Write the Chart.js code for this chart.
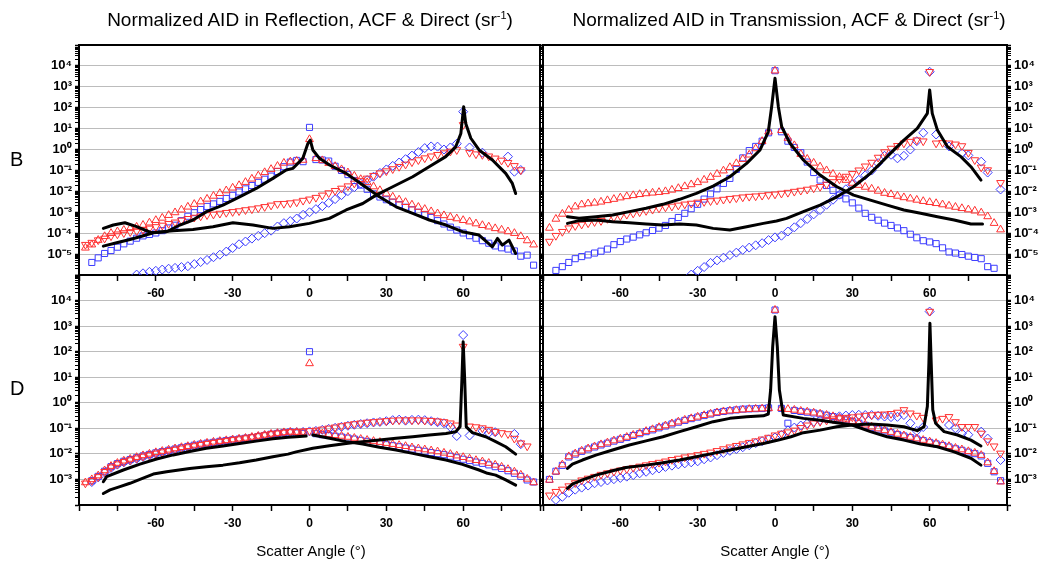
<!DOCTYPE html>
<html>
<head>
<meta charset="utf-8">
<script src="https://cdn.jsdelivr.net/npm/chart.js@4.4.1/dist/chart.umd.min.js"></script>
<style>
  html, body { margin: 0; padding: 0; background: #fff; }
  #page { position: relative; width: 1040px; height: 566px; overflow: hidden;
          font-family: "Liberation Sans", Arial, sans-serif; }
  #page canvas { position: absolute; left: 0; top: 0; }
  .lbl { position: absolute; color: #000; white-space: nowrap; line-height: 1; }
  .title { font-size: 19px; top: 10px; transform: translateX(-50%); }
  .xt { font-size: 15px; top: 543px; transform: translateX(-50%); }
  .row { font-size: 20px; left: 10px; }
  .title sup { font-size: 11px; vertical-align: 7px; line-height: 0; }
</style>
</head>
<body>
<div id="page">
  <canvas id="cBL" width="1040" height="566"></canvas>
  <canvas id="cBR" width="1040" height="566"></canvas>
  <canvas id="cTL" width="1040" height="566"></canvas>
  <canvas id="cTR" width="1040" height="566"></canvas>
  <div class="lbl title" style="left:310px">Normalized AID in Reflection, ACF &amp; Direct (sr<sup>-1</sup>)</div>
  <div class="lbl title" style="left:789px">Normalized AID in Transmission, ACF &amp; Direct (sr<sup>-1</sup>)</div>
  <div class="lbl row" style="top:149px">B</div>
  <div class="lbl row" style="top:378px">D</div>
  <div class="lbl xt" style="left:311px">Scatter Angle (°)</div>
  <div class="lbl xt" style="left:775px">Scatter Angle (°)</div>
</div>
<script>
Chart.defaults.font.family = '"Liberation Sans", Arial, sans-serif';

// all y values below are log10 of the normalized AID (sr^-1)

// angles of the marker series (deg)
const mkAngles = [
  -87.5, -85, -82.5, -80, -77.5, -75, -72.5, -70, -67.5, -65,
  -62.5, -60, -57.5, -55, -52.5, -50, -47.5, -45, -42.5, -40,
  -37.5, -35, -32.5, -30, -27.5, -25, -22.5, -20, -17.5, -15,
  -12.5, -10, -7.5, -5, -2.5, 0, 2.5, 5, 7.5, 10,
  12.5, 15, 17.5, 20, 22.5, 25, 27.5, 30, 32.5, 35,
  37.5, 40, 42.5, 45, 47.5, 50, 52.5, 55, 57.5, 60,
  62.5, 65, 67.5, 70, 72.5, 75, 77.5, 80, 82.5, 85,
  87.5
];

const xTickVals = [-90, -75, -60, -45, -30, -15, 0, 15, 30, 45, 60, 75, 90];
const xLabelVals = [-60, -30, 0, 30, 60];

// ---------- Reflection, B ----------
const reflB_sq = [
  null, -5.40, -5.18, -4.97, -4.83, -4.67, -4.51, -4.38, -4.24, -4.13,
  -4.06, -3.99, -3.88, -3.75, -3.62, -3.40, -3.19, -3.02, -2.87, -2.72,
  -2.60, -2.48, -2.34, -2.19, -2.03, -1.88, -1.72, -1.57, -1.42, -1.27,
  -1.05, -0.82, -0.60, -0.52, -0.58, 1.06, -0.48, -0.50, -0.55, -0.80,
  -1.00, -1.20, -1.48, -1.70, -1.90, -2.12, -2.27, -2.40, -2.52, -2.64,
  -2.76, -2.88, -3.00, -3.12, -3.25, -3.40, -3.56, -3.71, -3.85, -3.99,
  -4.12, -4.24, -4.36, -4.48, -4.61, -4.70, -4.76, -4.85, -5.10, -5.05,
  -5.53
];
const reflB_tu = [
  -4.70, -4.55, -4.33, -4.15, -4.00, -3.92, -3.85, -3.77, -3.70, -3.61,
  -3.50, -3.38, -3.27, -3.14, -3.01, -2.88, -2.74, -2.61, -2.49, -2.36,
  -2.22, -2.09, -1.96, -1.83, -1.71, -1.56, -1.40, -1.25, -1.09, -0.94,
  -0.79, -0.64, -0.58, -0.55, -0.50, 0.49, -0.42, -0.52, -0.65, -0.80,
  -0.95, -1.10, -1.26, -1.42, -1.57, -1.77, -1.95, -2.11, -2.26, -2.40,
  -2.52, -2.64, -2.75, -2.85, -2.96, -3.06, -3.15, -3.23, -3.30, -3.38,
  -3.45, -3.54, -3.62, -3.69, -3.77, -3.84, -3.92, -4.00, -4.15, -4.35,
  -4.55
];
const reflB_td = [
  -4.55, -4.45, -4.33, -4.25, -4.14, -4.05, -3.99, -3.94, -3.90, -3.84,
  -3.77, -3.70, -3.63, -3.55, -3.48, -3.39, -3.31, -3.25, -3.19, -3.13,
  -3.10, -3.06, -3.02, -2.98, -2.94, -2.89, -2.85, -2.80, -2.74, -2.67,
  -2.60, -2.59, -2.56, -2.52, -2.44, -2.38, -2.30, -2.19, -2.08, -1.97,
  -1.86, -1.75, -1.62, -1.50, -1.38, -1.25, -1.13, -1.03, -0.93, -0.82,
  -0.71, -0.60, -0.50, -0.41, -0.32, -0.25, -0.17, -0.09, -0.02, 1.18,
  -0.15, -0.22, -0.25, -0.32, -0.42, -0.52, -0.63, -0.78, -0.98, null,
  null
];
const reflB_dm = [
  null, null, null, null, null, null, null, null, -5.98, -5.92,
  -5.85, -5.80, -5.74, -5.70, -5.66, -5.62, -5.58, -5.48, -5.38, -5.28,
  -5.15, -5.03, -4.88, -4.71, -4.53, -4.40, -4.26, -4.13, -4.00, -3.88,
  -3.68, -3.52, -3.42, -3.30, -3.12, -3.00, -2.85, -2.71, -2.55, -2.37,
  -2.18, -1.99, -1.80, -1.63, -1.46, -1.30, -1.12, -0.95, -0.78, -0.62,
  -0.46, -0.29, -0.12, 0.07, 0.15, 0.14, 0.00, 0.10, 0.28, 1.81,
  0.10, null, -0.15, null, null, null, -0.34, -1.06, -0.98, null,
  null
];
const reflB_l0x = [-80.5, -75.3, -70.1, -66.2, -61, -55.8, -50.6, -45.5, -40.2, -33.8, -27.3, -20.8, -14.3, -9.1, -6.5, -2.6, -0.6, 0.3, 1.3, 3.9, 7.8, 14.3, 20.8, 27.3, 33.8, 40.3, 46.8, 53.3, 59.7, 66.2, 71.4, 73.4, 75.3, 77.9, 80.5];
const reflB_l0 = [-4.62, -4.46, -4.30, -4.17, -3.98, -3.93, -3.61, -3.37, -2.97, -2.66, -2.26, -1.86, -1.38, -0.98, -0.90, -0.42, 0.30, 0.45, -0.02, -0.42, -0.74, -1.14, -1.70, -2.26, -2.74, -3.05, -3.37, -3.61, -3.93, -4.09, -4.65, -4.25, -4.57, -4.33, -4.97];
const reflB_l60x = [-80.5, -76.6, -72.1, -67.5, -61.7, -53.3, -45.5, -37.7, -29.9, -22.1, -14.3, -7.8, 0, 7.8, 14.3, 20.8, 26, 32.5, 40.3, 46.7, 53.2, 57.1, 59.1, 60.2, 61, 63, 66.2, 71.4, 76.6, 79.2, 80.5];
const reflB_l60 = [-3.77, -3.61, -3.50, -3.69, -3.98, -3.88, -3.82, -3.69, -3.50, -3.61, -3.77, -3.69, -3.53, -3.29, -2.89, -2.58, -2.18, -1.78, -1.30, -0.82, -0.34, 0.13, 0.77, 2.05, 1.25, 0.54, -0.02, -0.50, -1.14, -1.62, -2.10];

// ---------- Transmission, B ----------
const transB_sq = [
  null, -5.78, -5.60, -5.40, -5.22, -5.12, -5.04, -4.95, -4.86, -4.76,
  -4.55, -4.40, -4.28, -4.19, -4.08, -3.98, -3.87, -3.76, -3.63, -3.44,
  -3.25, -3.05, -2.83, -2.62, -2.37, -2.12, -1.88, -1.62, -1.38, -0.95,
  -0.40, -0.05, 0.15, 0.40, 0.80, 3.77, 0.85, 0.40, 0.10, -0.15,
  -0.60, -1.10, -1.46, -1.72, -1.95, -2.18, -2.36, -2.55, -2.80, -3.05,
  -3.24, -3.38, -3.52, -3.63, -3.75, -3.88, -4.05, -4.22, -4.36, -4.42,
  -4.50, -4.70, -4.90, -4.95, -5.02, -5.10, -5.16, -5.22, -5.60, -5.68,
  null
];
const transB_tu = [
  -3.75, -3.32, -3.08, -2.89, -2.73, -2.63, -2.58, -2.55, -2.50, -2.43,
  -2.37, -2.30, -2.24, -2.19, -2.14, -2.10, -2.07, -2.04, -2.00, -1.93,
  -1.85, -1.76, -1.67, -1.57, -1.45, -1.32, -1.17, -1.01, -0.85, -0.66,
  -0.46, -0.25, 0.05, 0.40, 0.85, 3.77, 0.92, 0.55, 0.20, -0.22,
  -0.45, -0.64, -0.82, -1.00, -1.17, -1.32, -1.46, -1.60, -1.70, -1.79,
  -1.88, -1.98, -2.08, -2.14, -2.22, -2.29, -2.35, -2.41, -2.47, -2.52,
  -2.57, -2.63, -2.69, -2.75, -2.81, -2.87, -2.93, -3.02, -3.20, -3.52,
  -3.83
];
const transB_td = [
  -4.40, -4.12, -3.93, -3.76, -3.65, -3.58, -3.52, -3.46, -3.41, -3.31,
  -3.24, -3.18, -3.11, -3.05, -2.99, -2.93, -2.87, -2.81, -2.76, -2.72,
  -2.67, -2.62, -2.58, -2.53, -2.50, -2.46, -2.43, -2.39, -2.35, -2.32,
  -2.28, -2.25, -2.23, -2.20, -2.17, -2.14, -2.10, -2.06, -2.01, -1.96,
  -1.91, -1.85, -1.78, -1.67, -1.55, -1.42, -1.29, -1.16, -0.99, -0.80,
  -0.62, -0.38, -0.12, 0.05, 0.18, 0.30, 0.38, 0.45, 0.40, 3.72,
  0.30, 0.32, 0.30, 0.25, 0.17, -0.15, -0.50, -0.85, -0.98, null,
  -1.59
];
const transB_dm = [
  null, null, null, null, null, null, null, null, null, null,
  null, null, null, null, null, null, null, null, null, null,
  null, null, -5.98, -5.80, -5.62, -5.42, -5.30, -5.17, -5.05, -4.93,
  -4.80, -4.69, -4.58, -4.48, -4.33, -4.20, -4.12, -3.92, -3.72, -3.52,
  -3.32, -3.10, -2.89, -2.64, -2.40, -2.16, -1.90, -1.67, -1.45, -1.23,
  -1.00, -0.65, -0.30, -0.25, -0.42, -0.30, 0.00, 0.40, 0.80, 3.72,
  0.72, null, 0.15, null, -0.18, -0.28, null, -0.58, -1.10, null,
  -1.91
];
const transB_l0x = [-80.5, -76, -69.5, -63, -56.5, -50, -43.5, -37, -30.5, -24, -17.5, -11, -5.8, -2.6, -1.3, 0, 1.3, 2.6, 5.8, 11, 17.5, 24, 30.5, 37, 43.5, 50, 56.5, 63, 69.5, 76, 80.5];
const transB_l0 = [-3.21, -3.29, -3.21, -3.13, -2.97, -2.81, -2.62, -2.38, -2.10, -1.75, -1.30, -0.66, -0.02, 0.85, 2.05, 3.41, 2.05, 1.09, 0.30, -0.50, -1.22, -1.78, -2.18, -2.42, -2.66, -2.89, -3.05, -3.21, -3.37, -3.56, -3.56];
const transB_l60x = [-80.5, -76, -69.5, -63, -56.5, -50, -43.5, -37, -30.5, -24, -17.5, -11, -4.5, 0.6, 4.5, 11, 17.5, 24, 30.5, 37, 43.5, 50, 55.2, 59.1, 60, 61, 63, 66.9, 72.1, 76, 79.9];
const transB_l60 = [-3.53, -3.40, -3.37, -3.45, -3.50, -3.56, -3.61, -3.56, -3.61, -3.77, -3.85, -3.69, -3.53, -3.42, -3.29, -2.97, -2.66, -2.26, -1.78, -1.14, -0.34, 0.45, 1.01, 1.73, 2.85, 1.73, 0.93, 0.13, -0.34, -0.82, -1.46];

// ---------- Reflection, D ----------
const reflD_sq = [
  null, -3.05, -2.88, -2.68, -2.50, -2.38, -2.29, -2.22, -2.15, -2.08,
  -2.02, -1.96, -1.91, -1.86, -1.81, -1.76, -1.71, -1.66, -1.62, -1.58,
  -1.55, -1.51, -1.48, -1.45, -1.42, -1.39, -1.36, -1.32, -1.28, -1.23,
  -1.20, -1.17, -1.14, -1.18, -1.20, 2.00, -1.21, -1.25, -1.28, -1.31,
  -1.34, -1.38, -1.42, -1.47, -1.51, -1.55, -1.59, -1.64, -1.68, -1.72,
  -1.77, -1.81, -1.86, -1.90, -1.95, -1.99, -2.03, -2.09, -2.15, -2.21,
  -2.26, -2.32, -2.37, -2.43, -2.50, -2.57, -2.66, -2.76, -2.88, -3.02,
  -3.10
];
const reflD_tu = [
  -3.12, -3.00, -2.85, -2.65, -2.48, -2.36, -2.27, -2.20, -2.13, -2.06,
  -2.00, -1.94, -1.89, -1.84, -1.79, -1.74, -1.70, -1.65, -1.61, -1.57,
  -1.53, -1.50, -1.47, -1.44, -1.41, -1.38, -1.34, -1.30, -1.26, -1.22,
  -1.19, -1.16, -1.14, -1.15, -1.17, 1.54, -1.18, -1.21, -1.24, -1.27,
  -1.30, -1.34, -1.38, -1.42, -1.46, -1.50, -1.54, -1.58, -1.62, -1.66,
  -1.70, -1.75, -1.79, -1.83, -1.87, -1.91, -1.96, -2.01, -2.07, -2.13,
  -2.19, -2.25, -2.30, -2.36, -2.43, -2.51, -2.60, -2.70, -2.82, -2.98,
  -3.12
];
const reflD_td = [
  -3.15, -3.05, -2.90, -2.70, -2.52, -2.40, -2.31, -2.24, -2.17, -2.10,
  -2.04, -1.98, -1.93, -1.88, -1.83, -1.78, -1.73, -1.69, -1.64, -1.60,
  -1.56, -1.52, -1.49, -1.45, -1.42, -1.38, -1.34, -1.30, -1.26, -1.22,
  -1.19, -1.16, -1.14, -1.13, -1.12, -1.10, -1.08, -1.04, -1.00, -0.96,
  -0.91, -0.87, -0.83, -0.80, -0.77, -0.75, -0.73, -0.71, -0.69, -0.68,
  -0.68, -0.68, -0.68, -0.69, -0.70, -0.72, -0.75, -0.80, -0.88, 2.20,
  -0.92, -0.95, -0.99, -1.05, -1.13, -1.18, -1.22, -1.40, -1.58, -1.70,
  null
];
const reflD_dm = [
  null, -3.10, -2.92, -2.73, -2.55, -2.42, -2.33, -2.26, -2.19, -2.12,
  -2.06, -2.00, -1.95, -1.90, -1.85, -1.80, -1.75, -1.71, -1.66, -1.62,
  -1.58, -1.54, -1.51, -1.47, -1.44, -1.40, -1.36, -1.32, -1.28, -1.24,
  -1.21, -1.18, -1.16, -1.15, -1.14, -1.12, -1.10, -1.06, -1.02, -0.98,
  -0.94, -0.90, -0.86, -0.83, -0.80, -0.77, -0.75, -0.72, -0.68, -0.66,
  -0.70, -0.67, -0.66, -0.68, -0.72, -0.76, -0.80, -0.95, -1.30, 2.65,
  -1.28, null, -1.10, -1.18, -1.15, null, null, -1.22, -1.62, null,
  null
];
const reflD_l0x = [-80.5, -79.2, -72.7, -66.2, -59.7, -53.2, -46.8, -40.3, -33.8, -27.3, -20.8, -14.3, -8.4, -5.2, -1.3, 0, 1.3, 7.8, 14.3, 20.8, 27.3, 33.8, 40.3, 46.8, 53.3, 59.7, 66.2, 69.5, 72.7, 76.6, 80.5];
const reflD_l0 = [-3.09, -2.89, -2.63, -2.40, -2.20, -2.04, -1.91, -1.78, -1.69, -1.59, -1.50, -1.41, -1.35, -1.33, -1.30, null, -1.26, -1.39, -1.52, -1.61, -1.74, -1.85, -1.98, -2.11, -2.24, -2.41, -2.63, -2.76, -2.83, -3.02, -3.22];
const reflD_l60x = [-80.5, -77.9, -74, -70.1, -66.2, -61, -55.8, -46.8, -40.3, -33.8, -27.3, -20.8, -14.3, -8.4, -5.2, 1.3, 7.8, 14.3, 20.8, 27.3, 33.8, 40.3, 46.8, 53.3, 57.1, 58.8, 59.5, 60, 60.6, 61.2, 63.6, 68.8, 72.7, 76.6, 80.5];
const reflD_l60 = [-3.55, -3.41, -3.28, -3.15, -3.00, -2.79, -2.70, -2.57, -2.50, -2.44, -2.35, -2.24, -2.11, -2.01, -1.92, -1.78, -1.68, -1.59, -1.52, -1.46, -1.39, -1.33, -1.26, -1.20, -1.13, -0.94, 0.89, 2.39, 0.89, -0.94, -1.17, -1.33, -1.52, -1.72, -2.01];

// ---------- Transmission, D ----------
const transD_sq = [
  -3.00, -2.68, -2.45, -2.12, -2.01, -1.90, -1.81, -1.73, -1.65, -1.58,
  -1.50, -1.43, -1.36, -1.28, -1.21, -1.13, -1.06, -0.98, -0.91, -0.83,
  -0.76, -0.69, -0.62, -0.56, -0.50, -0.44, -0.38, -0.34, -0.31, -0.28,
  -0.25, -0.24, -0.23, -0.22, -0.20, 3.63, -0.22, -0.80, -0.30, -0.34,
  -0.37, -0.40, -0.44, -0.49, -0.54, -0.60, -0.67, -0.73, -0.80, -0.88,
  -0.96, -1.03, -1.10, -1.17, -1.24, -1.30, -1.36, -1.42, -1.48, -1.55,
  -1.61, -1.67, -1.73, -1.80, -1.86, -1.93, -1.99, -2.08, -2.37, -2.70,
  -3.05
];
const transD_tu = [
  -3.02, -2.70, -2.42, -2.10, -1.99, -1.88, -1.79, -1.71, -1.63, -1.56,
  -1.48, -1.41, -1.34, -1.26, -1.19, -1.11, -1.04, -0.96, -0.89, -0.81,
  -0.74, -0.67, -0.61, -0.55, -0.49, -0.43, -0.38, -0.34, -0.31, -0.29,
  -0.27, -0.25, -0.24, -0.23, -0.22, 3.63, -0.21, -0.25, -0.28, -0.32,
  -0.35, -0.39, -0.43, -0.48, -0.53, -0.59, -0.66, -0.72, -0.79, -0.86,
  -0.94, -1.01, -1.08, -1.15, -1.22, -1.28, -1.34, -1.40, -1.46, -1.52,
  -1.58, -1.64, -1.70, -1.77, -1.83, -1.90, -1.96, -2.05, -2.34, -2.68,
  -3.09
];
const transD_td = [
  -3.62, -3.48, -3.39, -3.26, -3.14, -3.03, -2.96, -2.89, -2.81, -2.75,
  -2.69, -2.64, -2.59, -2.54, -2.49, -2.44, -2.39, -2.34, -2.29, -2.23,
  -2.18, -2.13, -2.09, -2.04, -1.99, -1.94, -1.88, -1.81, -1.74, -1.68,
  -1.62, -1.56, -1.50, -1.43, -1.36, -1.27, -1.20, -1.15, -1.08, -0.98,
  -0.88, -0.80, -0.74, -0.69, -0.64, -0.60, -0.58, -0.56, -0.53, -0.50,
  -0.48, -0.46, -0.45, -0.43, -0.38, -0.28, -0.41, -0.50, -0.58, 3.57,
  -0.68, -0.62, -0.55, -0.75, -0.94, -0.94, -0.94, -1.20, -1.50, -1.70,
  -1.98
];
const transD_dm = [
  null, -3.80, -3.68, -3.52, -3.40, -3.32, -3.24, -3.15, -3.10, -3.04,
  -2.99, -2.94, -2.89, -2.83, -2.76, -2.70, -2.64, -2.57, -2.51, -2.46,
  -2.41, -2.37, -2.33, -2.29, -2.21, -2.14, -2.05, -1.96, -1.88, -1.81,
  -1.74, -1.66, -1.58, -1.50, -1.43, -1.36, -1.26, -1.08, -0.97, -0.89,
  -0.81, -0.74, -0.68, -0.62, -0.57, -0.53, -0.50, -0.48, -0.47, -0.48,
  -0.48, -0.51, -0.54, -0.56, -0.55, -0.48, -0.80, -1.10, -0.95, 3.57,
  null, null, -0.87, -1.00, -1.20, -1.25, null, -1.13, -1.40, null,
  -2.24
];
const transD_l0x = [-80.5, -78.6, -74.7, -69.5, -63, -56.5, -50, -43.5, -37, -30.5, -24, -17.5, -11, -4.5, -2.6, -1.7, -0.9, 0, 0.9, 1.7, 3.2, 11, 17.5, 24, 29.9, 37, 43.5, 50, 56.5, 63, 69.5, 76, 79.9];
const transD_l0 = [-2.57, -2.40, -2.24, -2.05, -1.85, -1.65, -1.49, -1.33, -1.13, -0.94, -0.74, -0.61, -0.55, -0.51, -0.44, 0.50, 2.19, 3.37, 2.19, 0.50, -0.48, -0.61, -0.68, -0.78, -0.87, -1.13, -1.33, -1.46, -1.61, -1.72, -1.92, -2.17, -2.44];
const transD_l60x = [-80.5, -78.6, -74.7, -69.5, -63, -57.8, -50, -43.5, -37, -30.5, -24, -17.5, -11, -4.5, 1.3, 6.2, 11, 17.5, 24, 29.9, 37, 43.5, 50, 55.2, 57.8, 59.1, 59.7, 60.1, 60.6, 61.2, 62.3, 65.6, 70.8, 76, 79.9];
const transD_l60 = [-3.35, -3.18, -3.02, -2.83, -2.66, -2.53, -2.44, -2.35, -2.24, -2.11, -1.98, -1.85, -1.72, -1.59, -1.46, -1.33, -1.17, -1.07, -0.94, -0.87, -0.83, -0.87, -0.94, -1.09, -0.94, -0.15, 1.54, 3.11, 1.54, -0.28, -0.80, -1.13, -1.26, -1.46, -1.69];

// ---------- drawing ----------
const BLUE = '#3c3cff';
const RED = '#ff3030';
const GRID = '#bcbcbc';
const SUP = { '-': '\u207b', '0': '\u2070', '1': '\u00b9', '2': '\u00b2', '3': '\u00b3', '4': '\u2074',
              '5': '\u2075', '6': '\u2076', '7': '\u2077', '8': '\u2078', '9': '\u2079' };
const Y_BOX = 40;   // room kept for the y tick labels
const X_BOX = 30;   // room kept for the x tick labels

const isDecade = v => Math.abs(Math.log10(v) - Math.round(Math.log10(v))) < 1e-6;

function powLabel(v, lo, hi) {
  if (!isDecade(v)) return '';
  const e = Math.round(Math.log10(v));
  if (e < lo || e > hi) return '';
  return '10' + String(e).split('').map(c => SUP[c]).join('');
}

function logTicks(lo, hi) {
  const t = [];
  for (let e = lo; e < hi; e++) {
    for (let k = 1; k <= 9; k++) t.push({ value: Number(k + 'e' + e) });
  }
  t.push({ value: Number('1e' + hi) });
  return t;
}

const toPts = (xs, ls) => xs.map((x, i) => ({ x, y: ls[i] === null ? null : Math.pow(10, ls[i]) }));
const toMk = ls => mkAngles.map((x, i) => ({ x, y: ls[i] === null ? null : Math.pow(10, ls[i]) }))
                          .filter(p => p.y !== null);

function lineSet(xs, ls) {
  return { data: toPts(xs, ls), showLine: true, spanGaps: false, pointRadius: 0,
           borderColor: '#000', borderWidth: 3, borderJoinStyle: 'round', borderCapStyle: 'round' };
}
function markSet(ls, style, color, rot, r) {
  return { data: toMk(ls), showLine: false, pointStyle: style, pointRotation: rot,
           pointRadius: r, pointBorderWidth: 1, pointBorderColor: color,
           pointBackgroundColor: 'rgba(0,0,0,0)' };
}

function yScale(pos, exp, lab, labels, onArea) {
  return {
    type: 'logarithmic', position: pos,
    min: Number('1e' + exp[0]), max: Number('1e' + exp[1]),
    afterFit: s => { s.width = labels ? Y_BOX : 0; },
    afterBuildTicks: s => { s.ticks = logTicks(exp[0], exp[1]); },
    ticks: { display: labels, autoSkip: false, padding: 3, color: '#000',
             font: { size: 13, weight: 'bold' }, callback: v => powLabel(v, lab[0], lab[1]) },
    grid: { drawOnChartArea: onArea, tickLength: 4, tickColor: '#000',
            color: c => (c.tick && isDecade(c.tick.value)) ? GRID : 'rgba(0,0,0,0)',
            tickWidth: c => (c.tick && isDecade(c.tick.value)) ? 1.5 : 1 },
    border: { display: true, color: '#000', width: 2 }
  };
}

function panel(id, box, exp, lab, side, s) {
  const other = side === 'left' ? 'right' : 'left';
  const pad = {
    left: box.l - (side === 'left' ? Y_BOX : 0),
    right: 1040 - box.r - (side === 'right' ? Y_BOX : 0),
    top: box.t,
    bottom: 566 - box.b - X_BOX
  };
  new Chart(document.getElementById(id), {
    type: 'scatter',
    data: {
      datasets: [
        lineSet(s.l0x, s.l0),
        lineSet(s.l60x, s.l60),
        markSet(s.tu, 'triangle', RED, 0, 4.5),
        markSet(s.td, 'triangle', RED, 180, 4.5),
        markSet(s.sq, 'rect', BLUE, 0, 4.3),
        markSet(s.dm, 'rectRot', BLUE, 0, 4.5)
      ]
    },
    options: {
      responsive: false, animation: false, devicePixelRatio: 1, events: [],
      layout: { padding: pad },
      plugins: { legend: { display: false }, tooltip: { enabled: false }, title: { display: false } },
      scales: {
        x: {
          type: 'linear', position: 'bottom', min: -90, max: 90,
          afterFit: sc => { sc.height = X_BOX; },
          afterBuildTicks: sc => { sc.ticks = xTickVals.map(v => ({ value: v })); },
          ticks: { autoSkip: false, maxRotation: 0, padding: 5, color: '#000',
                   font: { size: 12, weight: 'bold' },
                   callback: v => xLabelVals.includes(v) ? String(v) : '' },
          grid: { drawOnChartArea: false, tickLength: 6, tickColor: '#000', tickWidth: 1.5 },
          border: { display: true, color: '#000', width: 2 }
        },
        xTop: {
          type: 'linear', position: 'top', min: -90, max: 90,
          afterFit: sc => { sc.height = 0; },
          ticks: { display: false }, grid: { display: false },
          border: { display: true, color: '#000', width: 2 }
        },
        y: yScale(side, exp, lab, true, true),
        y2: yScale(other, exp, lab, false, false)
      }
    }
  });
}

panel('cTL', { l: 79, t: 45, r: 540, b: 275 }, [-6, 5], [-5, 4], 'left',
  { sq: reflB_sq, tu: reflB_tu, td: reflB_td, dm: reflB_dm,
    l0x: reflB_l0x, l0: reflB_l0, l60x: reflB_l60x, l60: reflB_l60 });
panel('cTR', { l: 543, t: 45, r: 1007, b: 275 }, [-6, 5], [-5, 4], 'right',
  { sq: transB_sq, tu: transB_tu, td: transB_td, dm: transB_dm,
    l0x: transB_l0x, l0: transB_l0, l60x: transB_l60x, l60: transB_l60 });
panel('cBL', { l: 79, t: 275, r: 540, b: 505 }, [-4, 5], [-3, 4], 'left',
  { sq: reflD_sq, tu: reflD_tu, td: reflD_td, dm: reflD_dm,
    l0x: reflD_l0x, l0: reflD_l0, l60x: reflD_l60x, l60: reflD_l60 });
panel('cBR', { l: 543, t: 275, r: 1007, b: 505 }, [-4, 5], [-3, 4], 'right',
  { sq: transD_sq, tu: transD_tu, td: transD_td, dm: transD_dm,
    l0x: transD_l0x, l0: transD_l0, l60x: transD_l60x, l60: transD_l60 });
</script>
</body>
</html>
